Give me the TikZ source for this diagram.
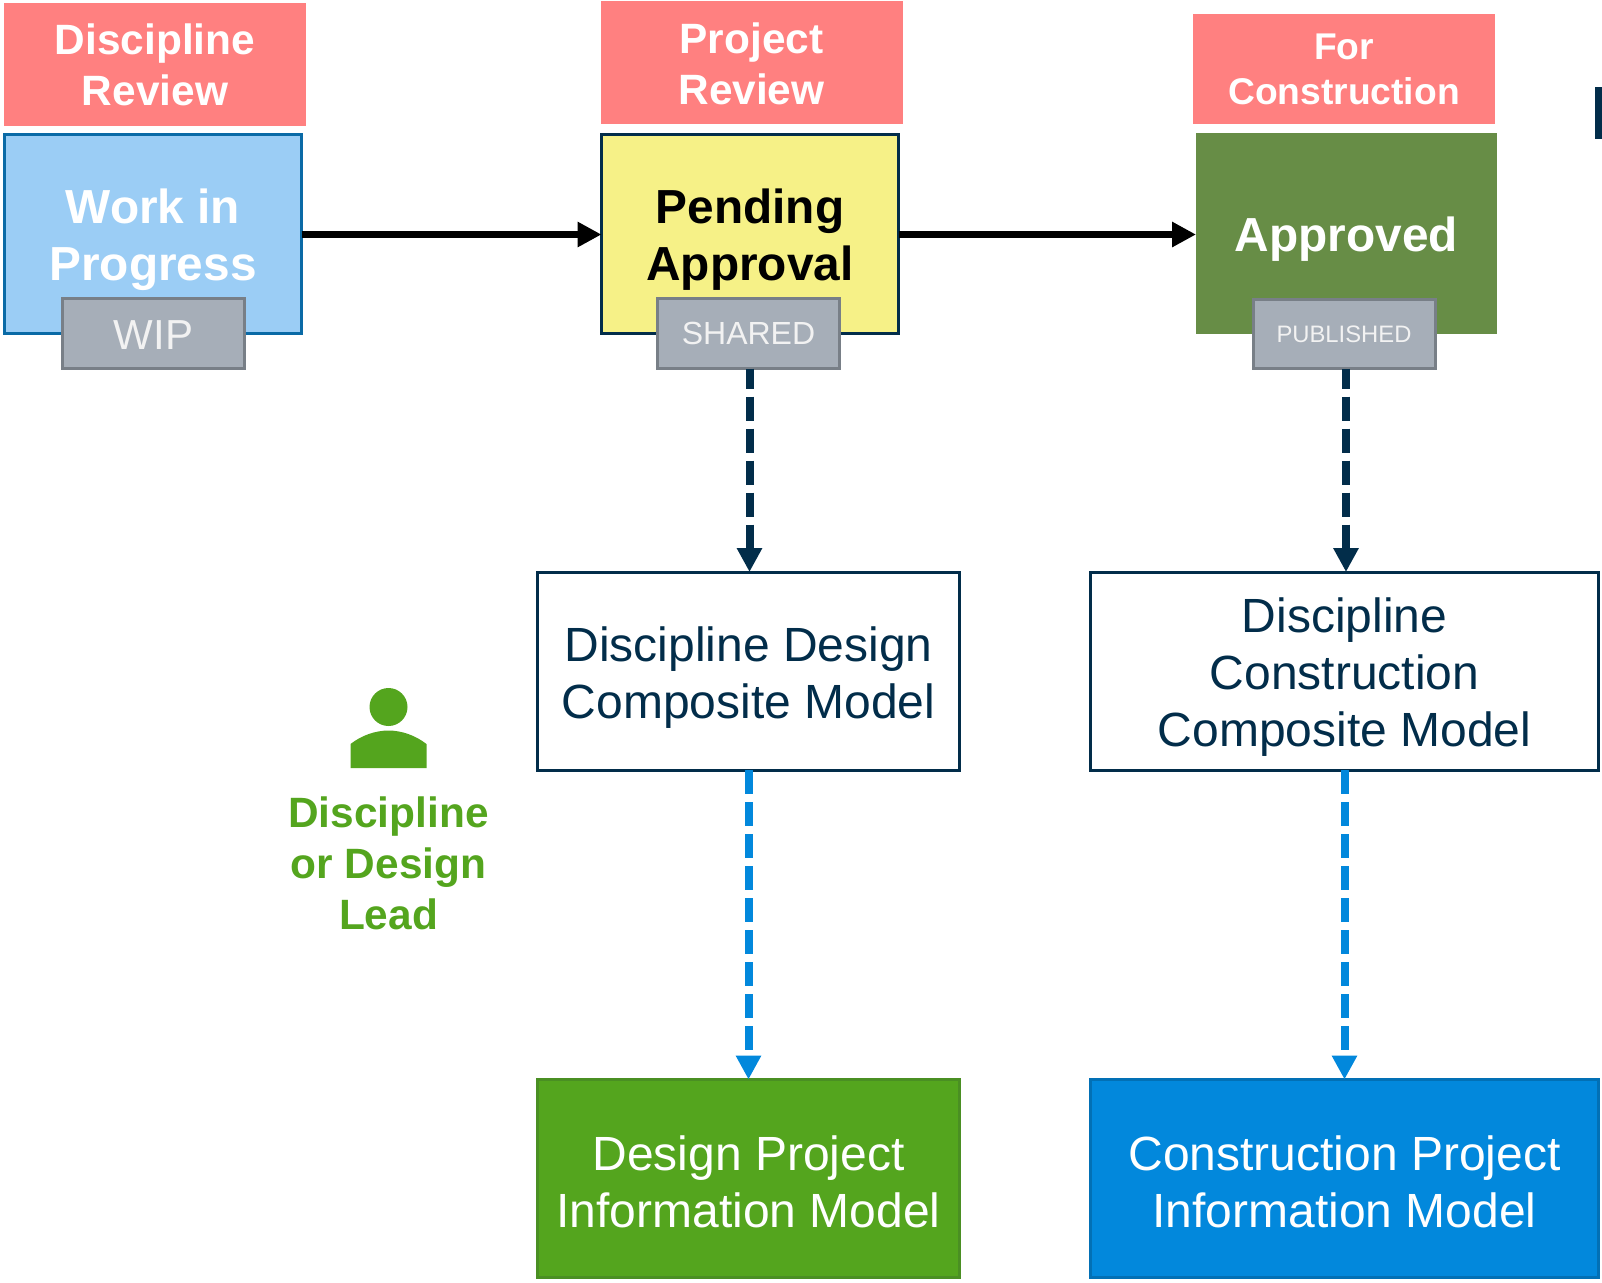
\documentclass[tikz,border=0pt]{standalone}
\usepackage{fontspec}
\setmainfont{Liberation Sans}
\usetikzlibrary{arrows.meta}
\definecolor{pinkhead}{HTML}{FF8080}
\definecolor{wipblue}{HTML}{9BCDF5}
\definecolor{wipedge}{HTML}{0A6AA6}
\definecolor{pendyellow}{HTML}{F6F187}
\definecolor{navy}{HTML}{022D4A}
\definecolor{apprgreen}{HTML}{678D46}
\definecolor{taggray}{HTML}{A6AEB8}
\definecolor{tagedge}{HTML}{787F87}
\definecolor{leadgreen}{HTML}{54A51E}
\definecolor{leadedge}{HTML}{4A8F23}
\definecolor{modelblue}{HTML}{0288DC}
\definecolor{modeledge}{HTML}{0270B5}
\tikzset{
	headbox/.style={fill=pinkhead,text=white,font=\bfseries\fontsize{21.2}{25.5}\selectfont,align=center,inner sep=0pt,minimum width=151pt,minimum height=61.5pt},
	statebox/.style={line width=1.5pt,outer sep=0pt,font=\bfseries\fontsize{23.9}{28.5}\selectfont,align=center,inner sep=0pt,text height=46.9pt,text depth=0pt,minimum width=148.5pt,minimum height=99.5pt},
	tagbox/.style={draw=tagedge,fill=taggray,line width=1.5pt,outer sep=0pt,text=white!95!black,align=center,inner sep=0pt,minimum width=91pt,minimum height=35pt},
	modelbox/.style={line width=1.5pt,outer sep=0pt,font=\fontsize{24}{28.5}\selectfont,align=center,inner sep=0pt,text height=48.7pt,text depth=0pt,minimum height=99pt},
	stepline/.style={line width=3.5pt,-{Triangle[length=12pt,width=12pt]}},
	navyline/.style={color=navy,line width=4pt,dash pattern=on 12pt off 4pt,dash phase=2pt,-{Triangle[length=12pt,width=12pt]}},
	blueline/.style={color=modelblue,line width=4pt,dash pattern=on 12pt off 4pt,-{Triangle[length=12pt,width=12pt]}},
}
\begin{document}
\begin{tikzpicture}[x=0.5pt,y=-0.5pt]
	\useasboundingbox (0,0) rectangle (1602,1282);
	% review heads
	\node [headbox] (dischead) at (155,64.5) {Discipline\\Review};
	\node [headbox,text height=42pt,text depth=0pt] (projhead) at (751.5,62.5) {Project\\Review};
	\node [headbox,minimum height=55pt,text height=35.5pt,text depth=0pt,font=\bfseries\fontsize{18.6}{22.5}\selectfont] (conshead) at (1344,69) {For\\Construction};
	% state boxes
	\node [statebox,draw=wipedge,fill=wipblue,text=white] (wip) at (153,233.5) {Work in\\Progress};
	\node [statebox,draw=navy,fill=pendyellow,text=black] (pending) at (750,233.5) {Pending\\Approval};
	\node [statebox,fill=apprgreen,text=white,text height=18pt,minimum width=150.5pt,minimum height=100.5pt] (approved) at (1346.5,233.5) {Approved};
	% tags on the boxes
	\node [tagbox,text height=15.5pt,text depth=0pt,font=\fontsize{21}{25}\selectfont] (wiptag) at (153.5,333.5) {WIP};
	\node [tagbox,font=\fontsize{16}{20}\selectfont] (sharedtag) at (748.5,333.5) {SHARED};
	\node [tagbox,minimum height=34.5pt,font=\fontsize{11.9}{14}\selectfont] (publishedtag) at (1344,334) {PUBLISHED};
	% model boxes
	\node [modelbox,draw=navy,fill=white,text=navy,text height=47.5pt,minimum width=211pt] (designcomp) at (748.5,671) {Discipline Design\\Composite Model};
	\node [modelbox,draw=navy,fill=white,text=navy,text height=75.5pt,minimum width=254pt] (conscomp) at (1344.5,671) {Discipline\\Construction\\Composite Model};
	\node [modelbox,draw=leadedge,fill=leadgreen,text=white,minimum width=211pt] (designpim) at (748.5,1178.5) {Design Project\\Information Model};
	\node [modelbox,draw=modeledge,fill=modelblue,text=white,minimum width=254pt] (conspim) at (1344.5,1178.5) {Construction Project\\Information Model};
	% lead
	\fill [color=leadgreen] (388.5,707) circle (19);
	\fill [color=leadgreen] (350.5,768) -- (350.5,744) .. controls (362,735) and (376,730.5) .. (388.5,730.5) .. controls (401,730.5) and (415,735) .. (426.5,744) -- (426.5,768) -- cycle;
	\node [text=leadgreen,font=\bfseries\fontsize{21.2}{25.5}\selectfont,align=center,inner sep=0pt] (leadtext) at (388.5,863.5) {Discipline\\or Design\\Lead};
	% cut off mark at the edge
	\fill [color=navy] (1595,87) rectangle (1602,139);
	% arrows
	\draw [stepline] ([yshift=-0.5pt]wip.east) -- ([yshift=-0.5pt]pending.west);
	\draw [stepline] ([yshift=-0.5pt]pending.east) -- ([yshift=-0.5pt]approved.west);
	\draw [navyline] ([xshift=0.5pt]sharedtag.south) -- ([xshift=0.5pt]sharedtag.south |- designcomp.north);
	\draw [navyline] ([xshift=1pt]publishedtag.south) -- ([xshift=1pt]publishedtag.south |- conscomp.north);
	\draw [blueline] (designcomp.south) -- (designpim.north);
	\draw [blueline] (conscomp.south) -- (conspim.north);
\end{tikzpicture}
\end{document}
